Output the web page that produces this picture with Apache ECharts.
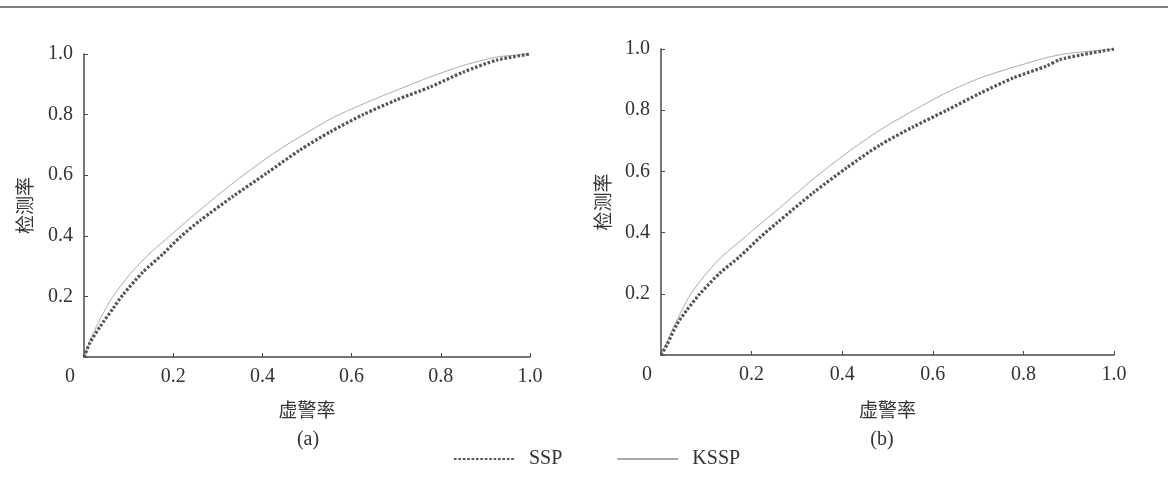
<!DOCTYPE html>
<html>
<head>
<meta charset="utf-8">
<script src="https://cdn.jsdelivr.net/npm/echarts@6/dist/echarts.min.js"></script>
<style>
  html, body { margin: 0; padding: 0; background: #fff; }
  #chart { width: 1168px; height: 477px; }
</style>
</head>
<body>
<div id="chart"></div>
<script>
// ROC curves: [false alarm rate, detection rate]
const sspA = [[0, 0], [0.013, 0.046], [0.036, 0.10], [0.065, 0.16], [0.087, 0.205], [0.132, 0.28],
  [0.177, 0.34], [0.215, 0.395], [0.26, 0.45], [0.334, 0.53], [0.41, 0.607], [0.484, 0.683],
  [0.552, 0.743], [0.626, 0.80], [0.70, 0.848], [0.776, 0.891], [0.85, 0.94], [0.926, 0.98], [1, 1]]
const ksspA = [[0, 0], [0.015, 0.06], [0.036, 0.125], [0.065, 0.2], [0.11, 0.285], [0.148, 0.343],
  [0.193, 0.4], [0.23, 0.448], [0.26, 0.485], [0.334, 0.574], [0.433, 0.68], [0.552, 0.785],
  [0.626, 0.835], [0.70, 0.88], [0.776, 0.924], [0.85, 0.962], [0.926, 0.99], [1, 1]]
const sspB = [[0, 0], [0.013, 0.033], [0.035, 0.1], [0.057, 0.147], [0.086, 0.2], [0.13, 0.268],
  [0.174, 0.322], [0.219, 0.385], [0.256, 0.432], [0.336, 0.53], [0.41, 0.612], [0.483, 0.686],
  [0.556, 0.745], [0.631, 0.8], [0.704, 0.855], [0.777, 0.905], [0.852, 0.945], [0.88, 0.965],
  [0.925, 0.98], [1, 1]]
const ksspB = [[0, 0], [0.015, 0.05], [0.035, 0.114], [0.064, 0.195], [0.101, 0.268], [0.137, 0.325],
  [0.181, 0.38], [0.219, 0.428], [0.263, 0.482], [0.336, 0.575], [0.41, 0.66], [0.483, 0.735],
  [0.556, 0.798], [0.631, 0.858], [0.704, 0.905], [0.777, 0.94], [0.852, 0.972], [0.896, 0.985], [1, 1]]

const panelLabels = ['(a)', '(b)']
const xName = '虚警率'
const yName = '检测率'

const serif = 'Liberation Serif'
const cjk = 'Noto Sans CJK SC'
const axisColor = '#4a4a4a'

function xAxisOf(gridIndex, nameGap) {
  return {
    type: 'value', gridIndex, min: 0, max: 1, interval: 0.2,
    name: xName, nameLocation: 'middle', nameGap,
    nameTextStyle: { fontFamily: cjk, fontSize: 19, color: '#333' },
    axisLine: { lineStyle: { color: axisColor, width: 1.5 } },
    axisTick: { inside: true, length: 4, lineStyle: { color: axisColor } },
    splitLine: { show: false },
    axisLabel: {
      margin: 10, fontFamily: serif, fontSize: 20, color: '#333',
      formatter: v => (v === 0 ? '{z|0}' : v.toFixed(1)),
      rich: { z: { fontFamily: serif, fontSize: 20, color: '#333', padding: [0, 28, 0, 0] } }
    }
  }
}

function yAxisOf(gridIndex, nameGap) {
  return {
    type: 'value', gridIndex, min: 0, max: 1, interval: 0.2,
    name: yName, nameLocation: 'middle', nameGap, nameRotate: 90,
    nameTextStyle: { fontFamily: cjk, fontSize: 19, color: '#333' },
    axisLine: { lineStyle: { color: axisColor, width: 1.5 } },
    axisTick: { inside: true, length: 4, lineStyle: { color: axisColor } },
    splitLine: { show: false },
    axisLabel: {
      margin: 11, fontFamily: serif, fontSize: 20, color: '#333',
      formatter: v => (v === 0 ? '' : v.toFixed(1))
    }
  }
}

function ssp(data, i) {
  return {
    name: 'SSP', type: 'line', xAxisIndex: i, yAxisIndex: i, data,
    symbol: 'none', smooth: 0.25, z: 3,
    lineStyle: { color: '#555', width: 3.2, type: [2.6, 1.8], cap: 'butt' },
    itemStyle: { color: '#555' }
  }
}

function kssp(data, i) {
  return {
    name: 'KSSP', type: 'line', xAxisIndex: i, yAxisIndex: i, data,
    symbol: 'none', smooth: 0.25, z: 2,
    lineStyle: { color: '#aaa', width: 1 },
    itemStyle: { color: '#aaa' }
  }
}

const chart = echarts.init(document.getElementById('chart'))
chart.setOption({
  backgroundColor: '#fff',
  animation: false,
  grid: [
    { left: 84, top: 54, width: 446, height: 303 },
    { left: 661, top: 49, width: 453, height: 306 }
  ],
  xAxis: [xAxisOf(0, 43), xAxisOf(1, 45)],
  yAxis: [yAxisOf(0, 50), yAxisOf(1, 49)],
  legend: {
    data: ['SSP', 'KSSP'],
    left: 448, top: 444,
    itemWidth: 61, itemHeight: 14, itemGap: 54,
    itemStyle: { opacity: 0 },
    textStyle: { fontFamily: serif, fontSize: 20, color: '#333', padding: [0, 0, 0, 9] }
  },
  graphic: [
    { type: 'line', shape: { x1: 0, y1: 7, x2: 1168, y2: 7 }, style: { stroke: '#555', lineWidth: 1.5 } },
    { type: 'text', x: 308, y: 440, style: { text: panelLabels[0], font: '20px "Liberation Serif"', fill: '#333', align: 'center', verticalAlign: 'middle' } },
    { type: 'text', x: 882, y: 440, style: { text: panelLabels[1], font: '20px "Liberation Serif"', fill: '#333', align: 'center', verticalAlign: 'middle' } }
  ],
  series: [ssp(sspA, 0), kssp(ksspA, 0), ssp(sspB, 1), kssp(ksspB, 1)]
})
</script>
</body>
</html>
